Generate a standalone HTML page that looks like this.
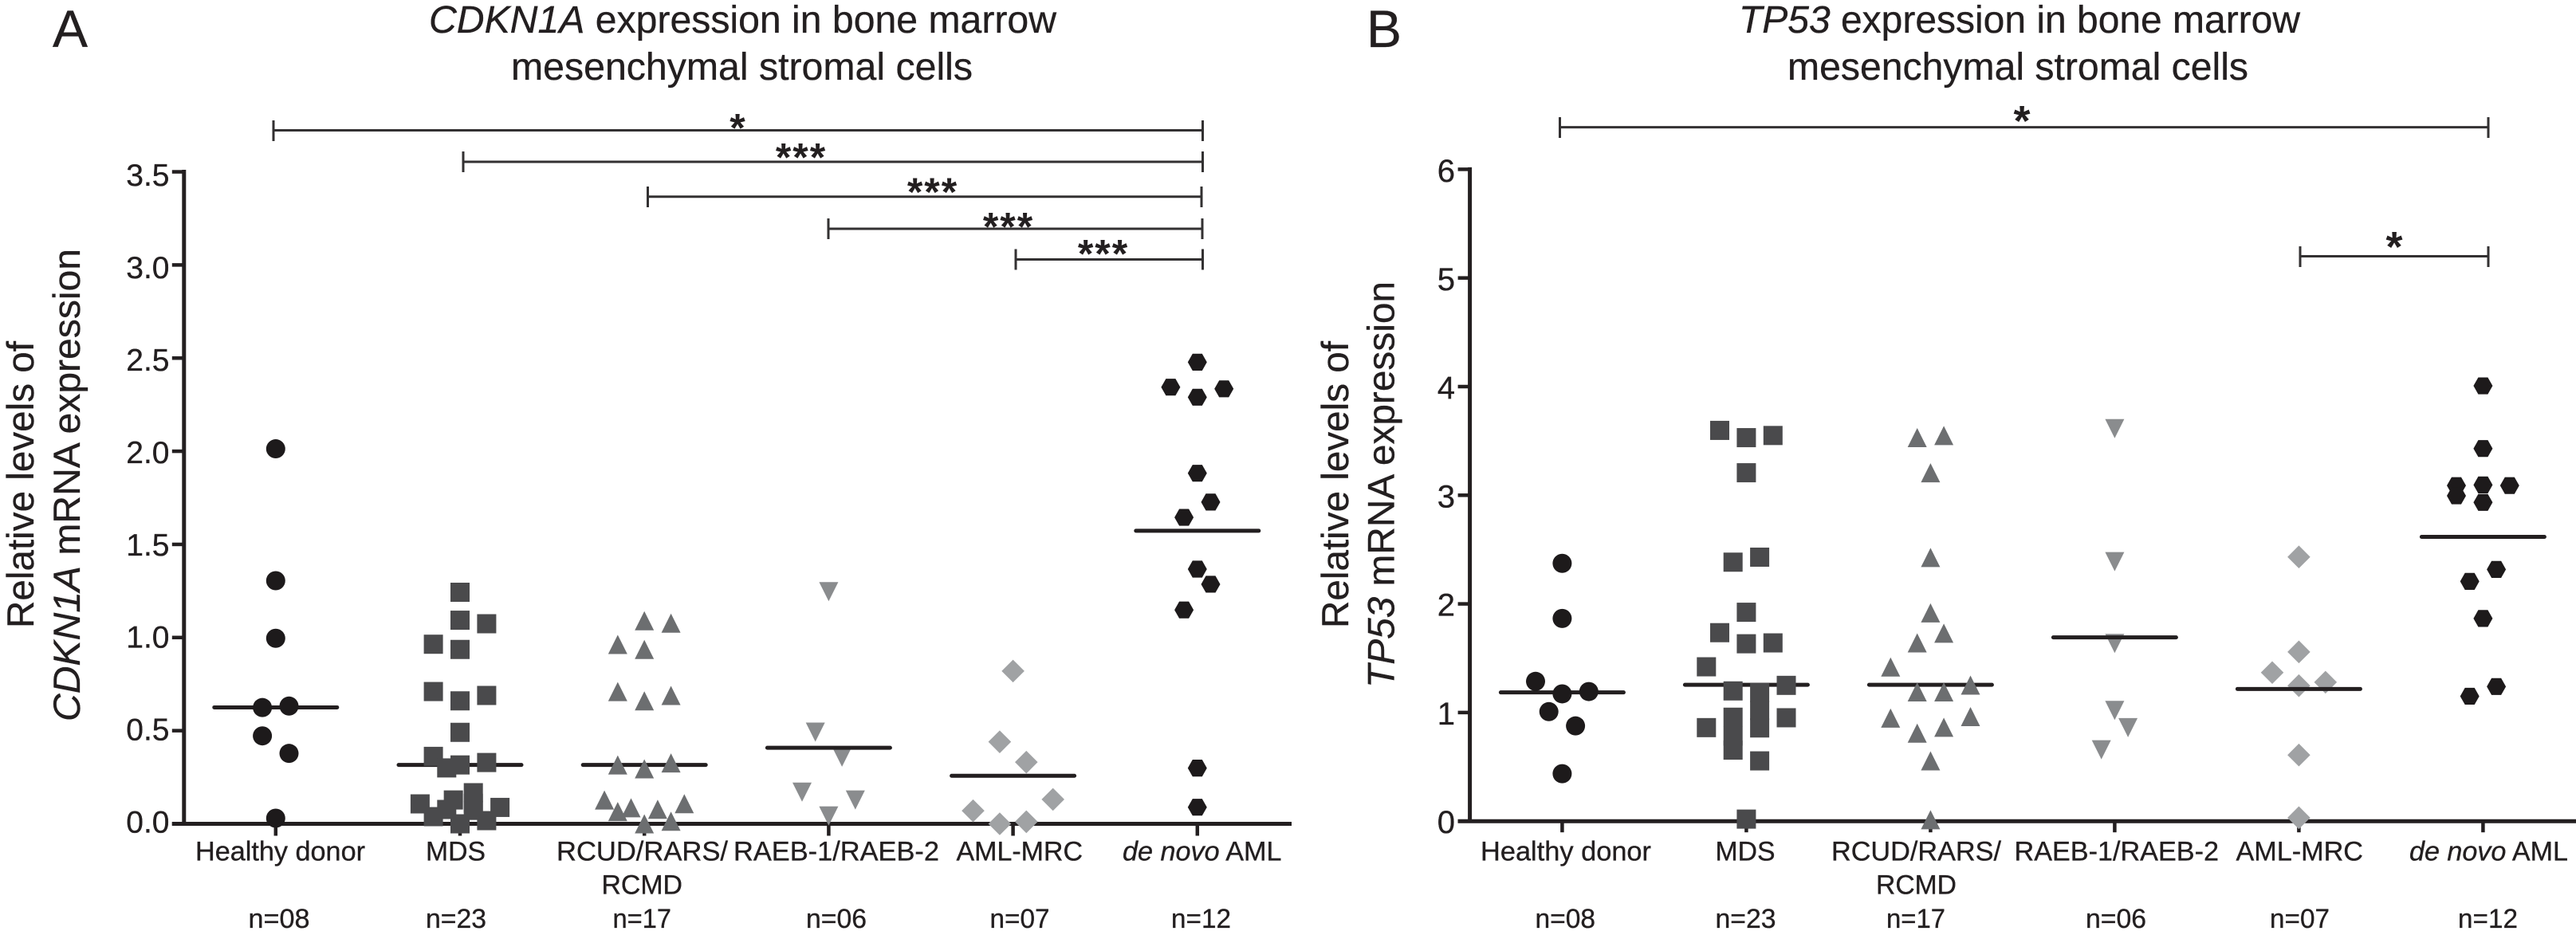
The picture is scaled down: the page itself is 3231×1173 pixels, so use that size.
<!DOCTYPE html>
<html lang="en">
<head>
<meta charset="utf-8">
<title>CDKN1A and TP53 expression in bone marrow mesenchymal stromal cells</title>
<style>
html,body{margin:0;padding:0;background:#fff;}
svg{display:block;}
text{font-family:"Liberation Sans",sans-serif;fill:#231f20;stroke:#231f20;stroke-width:.35;}
.title{font-size:48px;}
.ytitle{font-size:47px;}
.xl{font-size:34px;}
.panel{font-size:66px;}
.star{font-size:50px;font-weight:bold;text-anchor:middle;letter-spacing:2px;stroke:none;}
.br{stroke:#333132;stroke-width:3;fill:none;}
</style>
</head>
<body>
<svg id="figure" xmlns="http://www.w3.org/2000/svg" width="3231" height="1173" viewBox="0 0 3231 1173">
<rect x="0" y="0" width="3231" height="1173" fill="#fff"/>

<g id="panelA">
<text class="panel" x="66" y="59">A</text>
<text class="title" x="538" y="41" textLength="787" lengthAdjust="spacingAndGlyphs"><tspan font-style="italic">CDKN1A</tspan> expression in bone marrow</text>
<text class="title" x="641" y="100" textLength="579" lengthAdjust="spacingAndGlyphs">mesenchymal stromal cells</text>
<text class="ytitle" transform="translate(42,788) rotate(-90)" textLength="360" lengthAdjust="spacingAndGlyphs">Relative levels of</text>
<text class="ytitle" transform="translate(100,905) rotate(-90)" textLength="593" lengthAdjust="spacingAndGlyphs"><tspan font-style="italic">CDKN1A</tspan> mRNA expression</text>

<g>
<path class="br" d="M343 151V177M343 163.5H1508.5M1508.5 151V177"/>
<text class="star" x="926" y="177.5">*</text>
<path class="br" d="M581 190V216M581 203H1508.5M1508.5 190V216"/>
<text class="star" x="1005" y="214.5">***</text>
<path class="br" d="M812.5 234V260M812.5 246.8H1507M1507 234V260"/>
<text class="star" x="1170" y="258">***</text>
<path class="br" d="M1039 274V300M1039 287H1508M1508 274V300"/>
<text class="star" x="1265" y="301.5">***</text>
<path class="br" d="M1274 312.5V338.5M1274 325.5H1508.5M1508.5 312.5V338.5"/>
<text class="star" x="1384" y="335.5">***</text>
</g>

<g>
<text class="xl" x="245" y="1079.5" textLength="213" lengthAdjust="spacingAndGlyphs">Healthy donor</text>
<text class="xl" x="534" y="1079.5" textLength="75" lengthAdjust="spacingAndGlyphs">MDS</text>
<text class="xl" x="698" y="1079.5" textLength="215" lengthAdjust="spacingAndGlyphs">RCUD/RARS/</text>
<text class="xl" x="754.5" y="1121.5" textLength="101.5" lengthAdjust="spacingAndGlyphs">RCMD</text>
<text class="xl" x="920" y="1079.5" textLength="258" lengthAdjust="spacingAndGlyphs">RAEB-1/RAEB-2</text>
<text class="xl" x="1199.5" y="1079.5" textLength="158.5" lengthAdjust="spacingAndGlyphs">AML-MRC</text>
<text class="xl" x="1408" y="1079.5" textLength="199.5" lengthAdjust="spacingAndGlyphs"><tspan font-style="italic">de novo</tspan> AML</text>
<text class="xl" x="311.5" y="1164" textLength="77" lengthAdjust="spacingAndGlyphs">n=08</text>
<text class="xl" x="534" y="1164" textLength="76" lengthAdjust="spacingAndGlyphs">n=23</text>
<text class="xl" x="768.5" y="1164" textLength="73.5" lengthAdjust="spacingAndGlyphs">n=17</text>
<text class="xl" x="1011" y="1164" textLength="76" lengthAdjust="spacingAndGlyphs">n=06</text>
<text class="xl" x="1241.5" y="1164" textLength="75" lengthAdjust="spacingAndGlyphs">n=07</text>
<text class="xl" x="1469" y="1164" textLength="75" lengthAdjust="spacingAndGlyphs">n=12</text>
</g>
</g>

<g id="panelB">
<text class="panel" x="1714" y="59">B</text>
<text class="title" x="2181" y="41" textLength="704" lengthAdjust="spacingAndGlyphs"><tspan font-style="italic">TP53</tspan> expression in bone marrow</text>
<text class="title" x="2242" y="100" textLength="578" lengthAdjust="spacingAndGlyphs">mesenchymal stromal cells</text>
<text class="ytitle" transform="translate(1691,788) rotate(-90)" textLength="360" lengthAdjust="spacingAndGlyphs">Relative levels of</text>
<text class="ytitle" transform="translate(1748.5,863) rotate(-90)" textLength="510" lengthAdjust="spacingAndGlyphs"><tspan font-style="italic">TP53</tspan> mRNA expression</text>

<g>
<path class="br" d="M1956.5 147V173M1956.5 159.6H3121M3121 147V173"/>
<text class="star" style="font-size:54px" x="2537" y="170">*</text>
<path class="br" d="M2885 309V335M2885 321.5H3121M3121 309V335"/>
<text class="star" style="font-size:54px" x="3004" y="328">*</text>
</g>

<g>
<text class="xl" x="1857" y="1079.5" textLength="214" lengthAdjust="spacingAndGlyphs">Healthy donor</text>
<text class="xl" x="2151.5" y="1079.5" textLength="75" lengthAdjust="spacingAndGlyphs">MDS</text>
<text class="xl" x="2297" y="1079.5" textLength="213" lengthAdjust="spacingAndGlyphs">RCUD/RARS/</text>
<text class="xl" x="2353" y="1121.5" textLength="101" lengthAdjust="spacingAndGlyphs">RCMD</text>
<text class="xl" x="2526.5" y="1079.5" textLength="256.5" lengthAdjust="spacingAndGlyphs">RAEB-1/RAEB-2</text>
<text class="xl" x="2804.5" y="1079.5" textLength="159.5" lengthAdjust="spacingAndGlyphs">AML-MRC</text>
<text class="xl" x="3022" y="1079.5" textLength="199" lengthAdjust="spacingAndGlyphs"><tspan font-style="italic">de novo</tspan> AML</text>
<text class="xl" x="1925.5" y="1164" textLength="75.5" lengthAdjust="spacingAndGlyphs">n=08</text>
<text class="xl" x="2151.5" y="1164" textLength="76" lengthAdjust="spacingAndGlyphs">n=23</text>
<text class="xl" x="2366" y="1164" textLength="74" lengthAdjust="spacingAndGlyphs">n=17</text>
<text class="xl" x="2616" y="1164" textLength="76" lengthAdjust="spacingAndGlyphs">n=06</text>
<text class="xl" x="2847" y="1164" textLength="75" lengthAdjust="spacingAndGlyphs">n=07</text>
<text class="xl" x="3083" y="1164" textLength="75" lengthAdjust="spacingAndGlyphs">n=12</text>
</g>
</g>
</svg>

<script>
// Category names
const categories = ['healthy-donor', 'mds', 'rcud-rars-rcmd', 'raeb', 'aml-mrc', 'de-novo-aml'];

// Panel A: CDKN1A tick labels, group means, and per-group values with swarm column numbers
const cdkn1aTicks = ['0.0', '0.5', '1.0', '1.5', '2.0', '2.5', '3.0', '3.5'];
const cdkn1aMeans = [0.625, 0.316, 0.316, 0.408, 0.258, 1.573];
const cdkn1aHealthyValues = [2.013, 1.305, 0.996, 0.624, 0.632, 0.472, 0.378, 0.03];
const cdkn1aHealthyColumns = [0, 0, 0, -1, 1, -1, 1, 0];
const cdkn1aMdsValues = [1.243, 1.093, 1.074, 0.964, 0.936, 0.71, 0.689, 0.66, 0.491, 0.362, 0.329, 0.316, 0.3, 0.167, 0.128, 0.11, 0.107, 0.088, 0.077, 0.072, 0.0385, 0.017, 0];
const cdkn1aMdsColumns = [0, 0, 2, -2, 0, -2, 2, 0, 0, -2, 2, 0, -1, 1, -0.5, 1, -3, 3, -1, 1, -2, 2, 0];
const cdkn1aRcudValues = [1.09, 1.077, 0.963, 0.936, 0.71, 0.66, 0.689, 0.316, 0.295, 0.327, 0.128, 0.066, 0.086, 0.078, 0.108, 0.014, 0];
const cdkn1aRcudColumns = [0, 2, -2, 0, -2, 0, 2, -2, 0, 2, -3, -2, -1, 1, 3, 2, 0];
const cdkn1aRaebValues = [1.246, 0.492, 0.358, 0.17, 0.128, 0.042];
const cdkn1aRaebColumns = [0, -1, 1, -2, 2, 0];
const cdkn1aAmlMrcValues = [0.82, 0.44, 0.331, 0.131, 0.07, 0, 0.011];
const cdkn1aAmlMrcColumns = [0, -1, 1, 3, -3, -1, 1];
const cdkn1aDeNovoValues = [2.478, 2.344, 2.335, 2.29, 1.882, 1.727, 1.645, 1.367, 1.286, 1.148, 0.299, 0.089];
const cdkn1aDeNovoColumns = [0, -2, 2, 0, 0, 1, -1, 0, 1, -1, 0, 0];

// Panel B: TP53 tick labels, group means, and per-group values with swarm column numbers
const tp53Ticks = ['0', '1', '2', '3', '4', '5', '6'];
const tp53Means = [1.185, 1.255, 1.255, 1.692, 1.217, 2.617];
const tp53HealthyValues = [2.373, 1.866, 1.287, 1.172, 1.193, 1.008, 0.877, 0.437];
const tp53HealthyColumns = [0, 0, -2, 0, 2, -1, 1, 0];
const tp53MdsValues = [3.597, 3.53, 3.55, 3.207, 2.384, 2.43, 1.923, 1.735, 1.633, 1.641, 1.421, 1.199, 1.25, 1.185, 0.952, 0.861, 0.957, 0.783, 0.654, 1.019, 0.858, 0.555, 0.019];
const tp53MdsColumns = [-2, 0, 2, 0, -1, 1, 0, -2, 0, 2, -3, -1, 3, 1, 3, -3, -1, -1, -1, 1, 1, 1, 0];
const tp53RcudValues = [3.53, 3.55, 3.207, 2.427, 1.917, 1.641, 1.73, 1.419, 1.252, 1.19, 1.19, 0.963, 0.864, 0.949, 0.81, 0.555, 0.013];
const tp53RcudColumns = [-1, 1, 0, 0, 0, -1, 1, -3, 3, 1, -1, 3, 1, -3, -1, 0, 0];
const tp53RaebValues = [3.613, 2.389, 1.636, 1.019, 0.861, 0.657];
const tp53RaebColumns = [0, 0, 0, 0, 1, -1];
const tp53AmlMrcValues = [2.432, 1.558, 1.368, 1.279, 1.247, 0.609, 0.032];
const tp53AmlMrcColumns = [0, 0, -2, 2, 0, 0, 0];
const tp53DeNovoValues = [4.007, 3.43, 3.089, 3.095, 3.089, 2.995, 2.934, 2.317, 2.207, 1.866, 1.239, 1.15];
const tp53DeNovoColumns = [0, 0, -2, 0, 2, -2, 0, 1, -1, 0, 1, -1];

const NS = 'http://www.w3.org/2000/svg';
const INK = '#231f20';
const shapeFill = ['#1d1a1b', '#4a4a4c', '#6c6e70', '#8a8c8e', '#a0a2a4', '#1d1a1b'];

function node(parent, tag, attrs) {
  const el = document.createElementNS(NS, tag);
  for (const key in attrs) el.setAttribute(key, attrs[key]);
  parent.appendChild(el);
  return el;
}

function drawMarker(parent, shape, cx, cy, fill, label) {
  let el;
  if (shape === 0) {
    el = node(parent, 'circle', { cx: cx, cy: cy, r: 12, fill: fill });
  } else if (shape === 1) {
    el = node(parent, 'rect', { x: cx - 12, y: cy - 12, width: 24, height: 24, fill: fill });
  } else {
    let pts;
    if (shape === 2) pts = [[0, -12], [12, 12], [-12, 12]];
    else if (shape === 3) pts = [[0, 12], [12, -12], [-12, -12]];
    else if (shape === 4) pts = [[0, -14.3], [14.3, 0], [0, 14.3], [-14.3, 0]];
    else pts = [[-12, 0], [-6, -10.6], [6, -10.6], [12, 0], [6, 10.6], [-6, 10.6]];
    el = node(parent, 'polygon', { points: pts.map(function (p) { return (cx + p[0]) + ',' + (cy + p[1]); }).join(' '), fill: fill });
  }
  
  
}

function drawPanel(cfg) {
  const root = document.getElementById(cfg.id);
  const yScale = function (v) { return cfg.yZero - v * cfg.yPerUnit; };
  const xScale = function (i, column) { return cfg.xFirst + i * cfg.xStep + (column || 0) * cfg.columnWidth; };
  // The printed tick labels drift slightly from their ticks in the original figure.
  const labelScale = function (v) { return cfg.labelZero - v * cfg.labelPerUnit; };

  const axes = node(root, 'g', {});
  
  

  const yLine = node(axes, 'line', { x1: cfg.xAxis, x2: cfg.xAxis, y1: yScale(cfg.yMax) - 2.5, y2: cfg.yZero, stroke: INK, 'stroke-width': 5 });
  
  

  const xLine = node(axes, 'line', { x1: cfg.xAxis - 15, x2: cfg.xEnd, y1: cfg.yZero, y2: cfg.yZero, stroke: INK, 'stroke-width': 5 });
  
  

  cfg.ticks.forEach(function (label) {
    const value = parseFloat(label);
    const y = yScale(value);
    const tick = node(axes, 'line', { x1: cfg.xAxis - 15, x2: cfg.xAxis, y1: y, y2: y, stroke: INK, 'stroke-width': 4.5 });
    
    
    const text = node(axes, 'text', { x: cfg.tickLabelX, y: labelScale(value) + cfg.tickLabelDy, 'text-anchor': 'end', 'font-size': cfg.tickFont });
    text.textContent = label;
    
    
  });

  categories.forEach(function (name, i) {
    const x = xScale(i);
    const tick = node(axes, 'line', { x1: x, x2: x, y1: cfg.yZero, y2: cfg.yZero + cfg.xTickLen, stroke: INK, 'stroke-width': 4.5 });
    
    
  });

  function meanLine(i) {
    const y = yScale(cfg.means[i]);
    const x = cfg.meanFirst + i * cfg.xStep;
    const line = node(root, 'line', { x1: x - 77, x2: x + 77, y1: y, y2: y, stroke: INK, 'stroke-width': 5, 'stroke-linecap': 'round' });
    
    
  }

  // Mean lines sit behind the darker groups and over the two lighter ones.
  [0, 1, 2, 5].forEach(meanLine);

  categories.forEach(function (name, i) {
    const group = node(root, 'g', {});
    
    
    cfg.values[i].forEach(function (v, k) {
      drawMarker(group, i, xScale(i, cfg.columns[i][k]), yScale(v), shapeFill[i], cfg.prefix + '-point-' + name);
    });
  });

  [3, 4].forEach(meanLine);
}

drawPanel({
  id: 'panelA', prefix: 'panel-a', yZero: 1033.5, yPerUnit: 233.7, yMax: 3.5,
  xFirst: 345.8, xStep: 231.2, columnWidth: 16.7, meanFirst: 345.8, xAxis: 230.8, xEnd: 1620,
  labelZero: 1031, labelPerUnit: 231.8,
  tickLabelX: 212.5, tickLabelDy: 13.5, tickFont: 39, xTickLen: 15,
  ticks: cdkn1aTicks, means: cdkn1aMeans,
  values: [cdkn1aHealthyValues, cdkn1aMdsValues, cdkn1aRcudValues, cdkn1aRaebValues, cdkn1aAmlMrcValues, cdkn1aDeNovoValues],
  columns: [cdkn1aHealthyColumns, cdkn1aMdsColumns, cdkn1aRcudColumns, cdkn1aRaebColumns, cdkn1aAmlMrcColumns, cdkn1aDeNovoColumns]
});

drawPanel({
  id: 'panelB', prefix: 'panel-b', yZero: 1030.2, yPerUnit: 136.3, yMax: 6,
  xFirst: 1959.4, xStep: 231, columnWidth: 16.7, meanFirst: 1959.4, xAxis: 1843.6, xEnd: 3231,
  labelZero: 1031, labelPerUnit: 136.2,
  tickLabelX: 1825, tickLabelDy: 14, tickFont: 40, xTickLen: 14,
  ticks: tp53Ticks, means: tp53Means,
  values: [tp53HealthyValues, tp53MdsValues, tp53RcudValues, tp53RaebValues, tp53AmlMrcValues, tp53DeNovoValues],
  columns: [tp53HealthyColumns, tp53MdsColumns, tp53RcudColumns, tp53RaebColumns, tp53AmlMrcColumns, tp53DeNovoColumns]
});
</script>
</body>
</html>
